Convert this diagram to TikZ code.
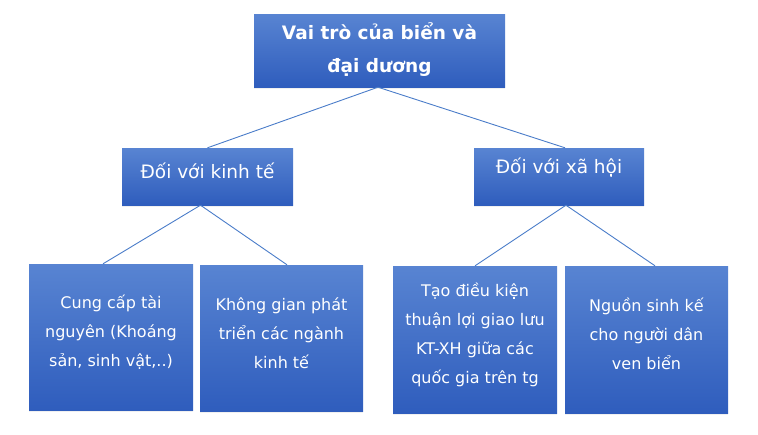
\documentclass[tikz,border=0pt]{standalone}
\usepackage{fontspec}
\setmainfont{DejaVu Sans}
\usetikzlibrary{shadows}

\definecolor{boxtop}{HTML}{5884D2}
\definecolor{boxbot}{HTML}{2F5DBD}
\definecolor{linkblue}{HTML}{4A7CC9}

\tikzset{
    box/.style={rectangle, top color=boxtop, bottom color=boxbot, draw=none,
        drop shadow={opacity=0.12, shadow xshift=0pt, shadow yshift=-2pt}},
    txt/.style={text=white, align=center, font=\fontsize{16}{29}\selectfont},
    link/.style={draw=linkblue, line width=0.9pt}
}

\begin{document}
\begin{tikzpicture}[x=1pt, y=-1pt]
        \useasboundingbox (0,0) rectangle (758,434);

        \node[box, minimum width=251pt, minimum height=73pt] (root) at (379.5, 50.5) {};
        \node[box, minimum width=171pt, minimum height=57pt] (econ) at (207.5, 176.5) {};
        \node[box, minimum width=170pt, minimum height=57pt] (social) at (559, 176.5) {};
        \node[box, minimum width=164pt, minimum height=146pt] (res) at (111, 337) {};
        \node[box, minimum width=163pt, minimum height=146pt] (space) at (281.5, 338) {};
        \node[box, minimum width=164pt, minimum height=147pt] (trade) at (475, 339.5) {};
        \node[box, minimum width=163pt, minimum height=147pt] (live) at (646.5, 339.5) {};

        \node[txt, font=\bfseries\fontsize{18.5}{33}\selectfont] (roottext) at (379.5, 49.5) {Vai trò của biển và\\đại dương};
        \node[txt, font=\fontsize{18.5}{22}\selectfont] (econtext) at (207.5, 171) {Đối với kinh tế};
        \node[txt, font=\fontsize{18.5}{22}\selectfont] (socialtext) at (559, 167) {Đối với xã hội};
        \node[txt] (restext) at (111, 332) {Cung cấp tài\\nguyên (Khoáng\\sản, sinh vật,..)};
        \node[txt] (spacetext) at (281.5, 333) {Không gian phát\\triển các ngành\\kinh tế};
        \node[txt] (tradetext) at (475, 335) {Tạo điều kiện\\thuận lợi giao lưu\\KT-XH giữa các\\quốc gia trên tg};
        \node[txt] (livetext) at (646.5, 334) {Nguồn sinh kế\\cho người dân\\ven biển};

        \draw[link] ([xshift=-1.5pt]root.south) -- (econ.north);
        \draw[link] ([xshift=-1.5pt]root.south) -- ([xshift=6pt]social.north);
        \draw[link] ([xshift=-7pt]econ.south) -- ([xshift=-8pt]res.north);
        \draw[link] ([xshift=-7pt]econ.south) -- ([xshift=5.5pt]space.north);
        \draw[link] ([xshift=7pt]social.south) -- (trade.north);
        \draw[link] ([xshift=7pt]social.south) -- ([xshift=8.5pt]live.north);
    \end{tikzpicture}
\end{document}
